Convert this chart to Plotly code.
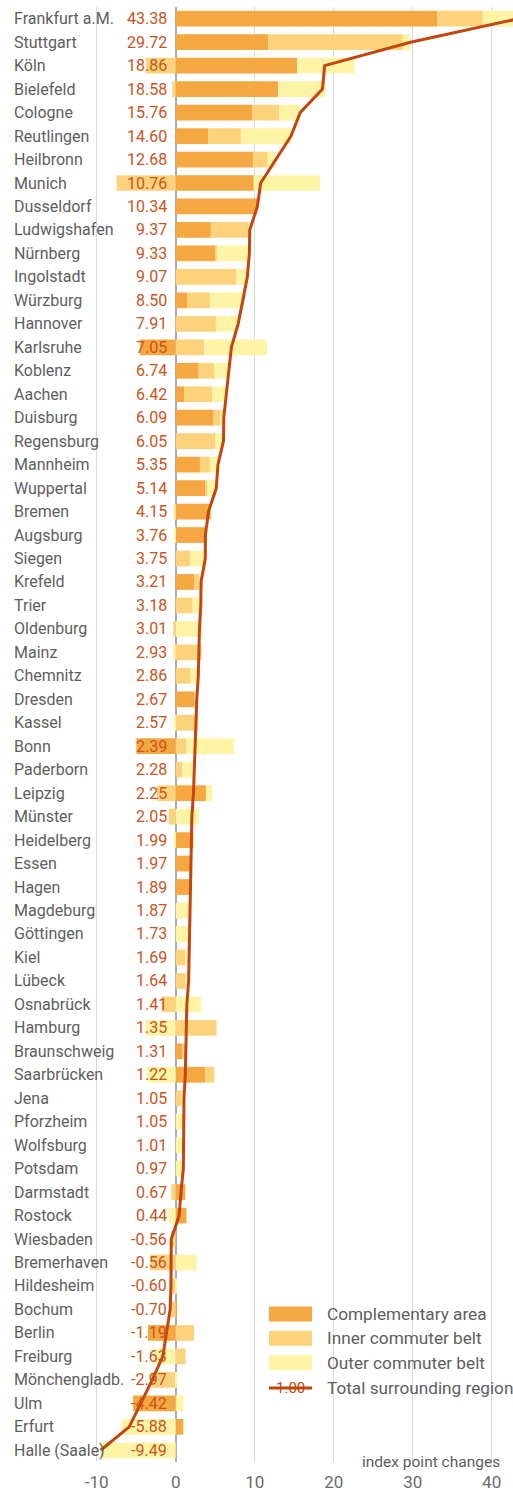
import plotly.graph_objects as go

# Cities, ordered from the largest to the smallest change of the total region
cities = [
    "Frankfurt a.M.", "Stuttgart", "Köln", "Bielefeld", "Cologne", "Reutlingen",
    "Heilbronn", "Munich", "Dusseldorf", "Ludwigshafen", "Nürnberg", "Ingolstadt",
    "Würzburg", "Hannover", "Karlsruhe", "Koblenz", "Aachen", "Duisburg",
    "Regensburg", "Mannheim", "Wuppertal", "Bremen", "Augsburg", "Siegen",
    "Krefeld", "Trier", "Oldenburg", "Mainz", "Chemnitz", "Dresden", "Kassel",
    "Bonn", "Paderborn", "Leipzig", "Münster", "Heidelberg", "Essen", "Hagen",
    "Magdeburg", "Göttingen", "Kiel", "Lübeck", "Osnabrück", "Hamburg",
    "Braunschweig", "Saarbrücken", "Jena", "Pforzheim", "Wolfsburg", "Potsdam",
    "Darmstadt", "Rostock", "Wiesbaden", "Bremerhaven", "Hildesheim", "Bochum",
    "Berlin", "Freiburg", "Mönchengladb.", "Ulm", "Erfurt", "Halle (Saale)",
]

# Total surrounding region (index point changes)
total = [
    43.38, 29.72, 18.86, 18.58, 15.76, 14.60, 12.68, 10.76, 10.34, 9.37, 9.33,
    9.07, 8.50, 7.91, 7.05, 6.74, 6.42, 6.09, 6.05, 5.35, 5.14, 4.15, 3.76,
    3.75, 3.21, 3.18, 3.01, 2.93, 2.86, 2.67, 2.57, 2.39, 2.28, 2.25, 2.05,
    1.99, 1.97, 1.89, 1.87, 1.73, 1.69, 1.64, 1.41, 1.35, 1.31, 1.22, 1.05,
    1.05, 1.01, 0.97, 0.67, 0.44, -0.56, -0.56, -0.60, -0.70, -1.19, -1.63,
    -2.97, -4.42, -5.88, -9.49,
]

complementary = [
    33.10, 11.70, 15.40, 12.97, 9.73, 4.13, 9.85, 9.89, 10.34, 4.46, 5.09,
    0.00, 1.43, 0.00, -4.50, 2.91, 1.05, 4.80, 0.00, 3.07, 3.79, 4.44, 3.91,
    0.00, 2.32, 0.00, 0.00, 0.00, 0.00, 2.36, 0.00, -4.98, 0.00, 3.83, 0.00,
    2.24, 1.97, 1.75, 0.00, 0.00, 0.00, 0.00, 0.00, 0.00, 0.88, 3.71, 0.00,
    0.00, 0.00, 0.00, 1.22, 1.37, 0.00, 0.00, 0.00, 0.15, -3.51, 0.00,
    0.00, -5.39, 0.97, 0.00,
]

inner_belt = [
    5.77, 17.05, -3.79, -0.42, 3.37, 4.13, 1.81, -7.49, 0.00, 4.72, 0.10,
    7.72, 2.91, 5.09, 3.58, 1.94, 3.54, 0.90, 5.00, 1.26, 0.25, 0.00, 0.00,
    1.81, 0.67, 2.15, -0.30, 3.27, 1.81, 0.31, 2.82, 1.39, 0.80, -2.38, -0.88,
    0.00, 0.00, 0.14, 0.00, 0.00, 1.22, 1.26, -1.79, 5.18, 0.43, 1.18, 0.76,
    0.00, 0.00, 0.00, -0.55, 0.00, -0.56, -3.21, -0.75, -0.85, 2.32, 1.26,
    -3.10, 0.00, 0.00, 0.00,
]

outer_belt = [
    4.51, 0.97, 7.24, 6.02, 2.66, 6.34, 1.01, 8.36, 0.00, 0.19, 4.14,
    1.35, 4.16, 2.82, 7.97, 1.89, 1.83, 0.39, 1.05, 1.02, 1.10, -0.29, -0.15,
    1.94, 0.47, 1.03, 3.31, -0.34, 1.05, 0.00, -0.25, 5.98, 1.48, 0.80, 2.93,
    -0.25, 0.00, 0.00, 1.87, 1.73, 0.47, 0.38, 3.20, -3.83, 0.00, -3.66, 0.29,
    1.05, 1.01, 0.97, 0.00, -0.93, 0.00, 2.65, 0.15, 0.00, 0.00, -2.89,
    0.13, 0.97, -6.85, -9.49,
]

x_ticks = [-10, 0, 10, 20, 30, 40]
series_names = ["Complementary area", "Inner commuter belt", "Outer commuter belt"]
series_colors = ["#F5A742", "#FDD27D", "#FFF3A6"]
line_color = "#C2470F"
label_color = "#5E5E5E"
value_color = "#C9541C"
font_family = "Roboto, Liberation Sans, sans-serif"

fig = go.Figure()

for name, values, color in zip(series_names, [complementary, inner_belt, outer_belt], series_colors):
    fig.add_trace(go.Bar(
        y=cities, x=values, name=name, orientation="h",
        marker=dict(color=color, line=dict(width=0)),
        showlegend=False, hoverinfo="x+y+name",
    ))

fig.add_trace(go.Scatter(
    y=cities, x=total, mode="lines", name="Total surrounding region",
    line=dict(color=line_color, width=3), showlegend=False,
))

annotations = []
for city, value in zip(cities, total):
    annotations.append(dict(
        xref="paper", x=12 / 513, yref="y", y=city, text=city,
        xanchor="left", yanchor="middle", showarrow=False,
        font=dict(family=font_family, size=16, color=label_color),
    ))
    annotations.append(dict(
        xref="x", x=0, xshift=-7, yref="y", y=city, text=f"{value:.2f}",
        xanchor="right", yanchor="middle", showarrow=False,
        font=dict(family=font_family, size=16, color=value_color),
    ))

# Axis caption
annotations.append(dict(
    xref="paper", x=502 / 513, yref="paper", y=0, yshift=0, text="index point changes",
    xanchor="right", yanchor="middle", showarrow=False,
    font=dict(family=font_family, size=15.5, color=label_color),
))

# Hand-drawn legend in the lower right corner
plot_top, plot_bottom = 7.0, 1462.0


def py(pixel_y):
    return (plot_bottom - pixel_y) / (plot_bottom - plot_top)


shapes = []
legend_rows = [1314, 1338.3, 1362.7, 1388]
for row_y, name, color in zip(legend_rows[:3], series_names, series_colors):
    shapes.append(dict(
        type="rect", xref="paper", yref="paper",
        x0=269 / 513, x1=312 / 513, y0=py(row_y + 7.5), y1=py(row_y - 7.5),
        fillcolor=color, line=dict(width=0), layer="above",
    ))
    annotations.append(dict(
        xref="paper", x=325 / 513, yref="paper", y=py(row_y), text=name,
        xanchor="left", yanchor="middle", showarrow=False,
        font=dict(family=font_family, size=17.2, color=label_color),
    ))

line_row = legend_rows[3]
shapes.append(dict(
    type="line", xref="paper", yref="paper",
    x0=269 / 513, x1=312 / 513, y0=py(line_row), y1=py(line_row),
    line=dict(color=line_color, width=3), layer="above",
))
annotations.append(dict(
    xref="paper", x=290.5 / 513, yref="paper", y=py(line_row), text="1.00",
    xanchor="center", yanchor="middle", showarrow=False,
    font=dict(family=font_family, size=15, color=line_color),
))
annotations.append(dict(
    xref="paper", x=325 / 513, yref="paper", y=py(line_row), text="Total surrounding region",
    xanchor="left", yanchor="middle", showarrow=False,
    font=dict(family=font_family, size=17.2, color=label_color),
))

fig.update_layout(
    width=513, height=1493,
    margin=dict(l=0, r=0, t=7, b=31, autoexpand=False),
    barmode="relative", bargap=0.33,
    plot_bgcolor="white", paper_bgcolor="white",
    font=dict(family=font_family, color=label_color),
    annotations=annotations, shapes=shapes,
    showlegend=False,
    xaxis=dict(
        range=[-22.24, 42.70], tickvals=x_ticks, ticktext=[str(t) for t in x_ticks],
        showgrid=True, gridcolor="#DADADA", gridwidth=1,
        zeroline=True, zerolinecolor="#ABABAB", zerolinewidth=1.5,
        ticks="outside", ticklen=5, tickcolor="rgba(0,0,0,0)",
        tickfont=dict(family=font_family, size=17, color="#6A6A6A"),
        showline=False, fixedrange=True, automargin=False,
    ),
    yaxis=dict(
        categoryorder="array", categoryarray=cities,
        range=[len(cities) - 0.5, -0.5],
        showticklabels=False, showgrid=False, zeroline=False, fixedrange=True,
        automargin=False,
    ),
)

fig.write_html("out.html")
